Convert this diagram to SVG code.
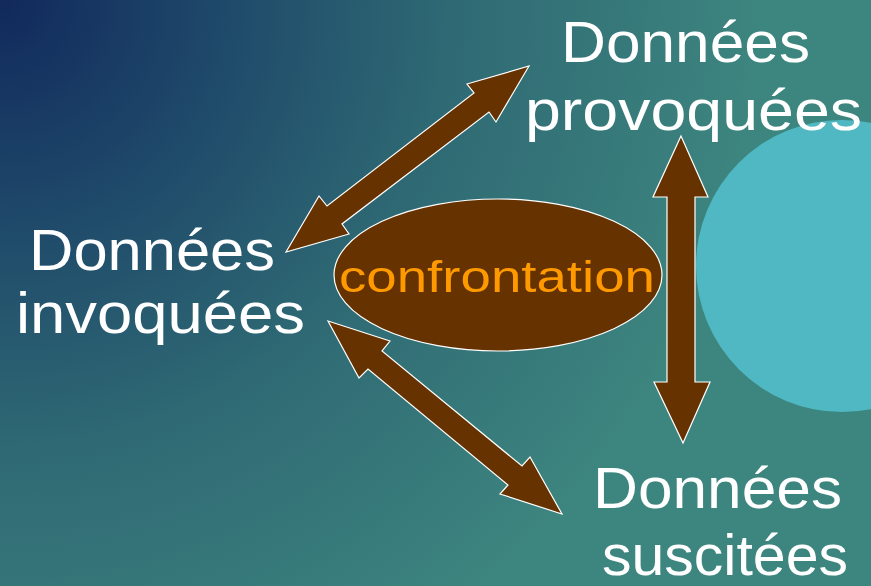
<svg xmlns="http://www.w3.org/2000/svg" width="871" height="586" viewBox="0 0 871 586">
<defs>
<radialGradient id="bg" cx="0" cy="0" r="760" gradientUnits="userSpaceOnUse">
<stop offset="0" stop-color="#11295c"/>
<stop offset="0.3" stop-color="#1f4a6a"/>
<stop offset="0.6" stop-color="#2f6a74"/>
<stop offset="1" stop-color="#3d857f"/>
</radialGradient>
<style>
.arrow{fill:#663300;stroke:#ffffff;stroke-width:1.2;stroke-linejoin:miter}
.lbl{font-family:"Liberation Sans","DejaVu Sans",sans-serif;font-size:58px;fill:#ffffff}
.conf{font-family:"Liberation Sans","DejaVu Sans",sans-serif;font-size:44px;fill:#ff9900}
</style>
</defs>
<rect width="871" height="586" fill="url(#bg)"/>
<circle cx="842" cy="266" r="146" fill="#50b8c2"/>
<g id="connectors">
<polygon class="arrow" points="529,66 496,122 489,112 342,224 349,234 286,252 319,196 327,206 474,93 467,84"/>
<polygon class="arrow" points="328,321 390,341 382,351 522,466 530,457 562,514 500,494 508,485 368,369 359,378"/>
<polygon class="arrow" points="681,136 708,197 695,197 695,382 710,382 683,443 654,382 667,382 667,197 653,197"/>
</g>
<g id="confrontation">
<ellipse cx="498" cy="275" rx="164" ry="76" fill="#663300" stroke="#ffffff" stroke-width="1.2"/>
<text class="conf" x="339" y="292" textLength="316" lengthAdjust="spacingAndGlyphs">confrontation</text>
</g>
<g id="provoquees">
<text class="lbl" x="561" y="62" textLength="249" lengthAdjust="spacingAndGlyphs">Données</text>
<text class="lbl" x="525" y="130" textLength="337" lengthAdjust="spacingAndGlyphs">provoquées</text>
</g>
<g id="invoquees">
<text class="lbl" x="29" y="270" textLength="246" lengthAdjust="spacingAndGlyphs">Données</text>
<text class="lbl" x="16" y="333" textLength="289" lengthAdjust="spacingAndGlyphs">invoquées</text>
</g>
<g id="suscitees">
<text class="lbl" x="593" y="508" textLength="249" lengthAdjust="spacingAndGlyphs">Données</text>
<text class="lbl" x="602" y="575" textLength="246" lengthAdjust="spacingAndGlyphs">suscitées</text>
</g>
</svg>
